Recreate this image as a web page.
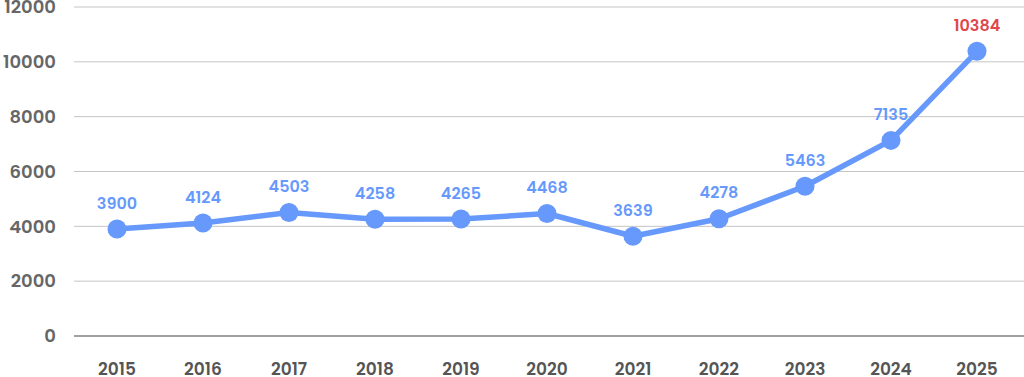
<!DOCTYPE html>
<html>
<head>
<meta charset="utf-8">
<script src="https://cdn.jsdelivr.net/npm/d3@7"></script>
<style>
  body { margin: 0; background: #fff; }
  svg { display: block; font-family: "Poppins", "Inter", "Open Sans", sans-serif; }
</style>
</head>
<body>
<div id="chart"></div>
<script>
const years = ["2015", "2016", "2017", "2018", "2019", "2020", "2021", "2022", "2023", "2024", "2025"];
const values = [3900, 4124, 4503, 4258, 4265, 4468, 3639, 4278, 5463, 7135, 10384];
const yTicks = [0, 2000, 4000, 6000, 8000, 10000, 12000];

const width = 1024;
const height = 377;
const margin = { top: 7, right: 4, bottom: 41, left: 74 };

const svg = d3
  .select("#chart")
  .append("svg")
  .attr("width", width)
  .attr("height", height);

const xScale = d3
  .scalePoint()
  .domain(years)
  .range([margin.left, width - margin.right])
  .padding(0.5);

const yScale = d3
  .scaleLinear()
  .domain([0, 12000])
  .range([height - margin.bottom, margin.top]);

// grid lines
svg
  .append("g")
  .selectAll("line")
  .data(yTicks)
  .join("line")
  .attr("x1", margin.left)
  .attr("x2", width)
  .attr("y1", (d) => yScale(d))
  .attr("y2", (d) => yScale(d))
  .attr("stroke", (d) => (d === 0 ? "#444" : "#c4c4c4"))
  .attr("stroke-width", (d) => (d === 0 ? 1.2 : 1));

// y axis labels
svg
  .append("g")
  .selectAll("text")
  .data(yTicks)
  .join("text")
  .attr("x", 56)
  .attr("y", (d) => yScale(d))
  .attr("dy", "0.35em")
  .attr("text-anchor", "end")
  .attr("font-size", 18)
  .attr("font-weight", 600)
  .attr("fill", "#666")
  .text((d) => d);

// x axis labels
svg
  .append("g")
  .selectAll("text")
  .data(years)
  .join("text")
  .attr("x", (d) => xScale(d))
  .attr("y", 369)
  .attr("dy", "0.35em")
  .attr("text-anchor", "middle")
  .attr("font-size", 17)
  .attr("font-weight", 600)
  .attr("fill", "#555")
  .text((d) => d);

const data = years.map((y, i) => ({ year: y, value: values[i] }));
const blue = "#6699fb";

const line = d3
  .line()
  .x((d) => xScale(d.year))
  .y((d) => yScale(d.value));

svg
  .append("path")
  .datum(data)
  .attr("d", line)
  .attr("fill", "none")
  .attr("stroke", blue)
  .attr("stroke-width", 5.5)
  .attr("stroke-linejoin", "round");

svg
  .append("g")
  .selectAll("circle")
  .data(data)
  .join("circle")
  .attr("cx", (d) => xScale(d.year))
  .attr("cy", (d) => yScale(d.value))
  .attr("r", 9.5)
  .attr("fill", blue);

// value labels, last one highlighted
svg
  .append("g")
  .selectAll("text")
  .data(data)
  .join("text")
  .attr("x", (d) => xScale(d.year))
  .attr("y", (d) => yScale(d.value) - 26)
  .attr("dy", "0.35em")
  .attr("text-anchor", "middle")
  .attr("font-size", 16)
  .attr("font-weight", 600)
  .attr("fill", (d, i) => (i === data.length - 1 ? "#e0474c" : blue))
  .text((d) => d.value);
</script>
</body>
</html>
